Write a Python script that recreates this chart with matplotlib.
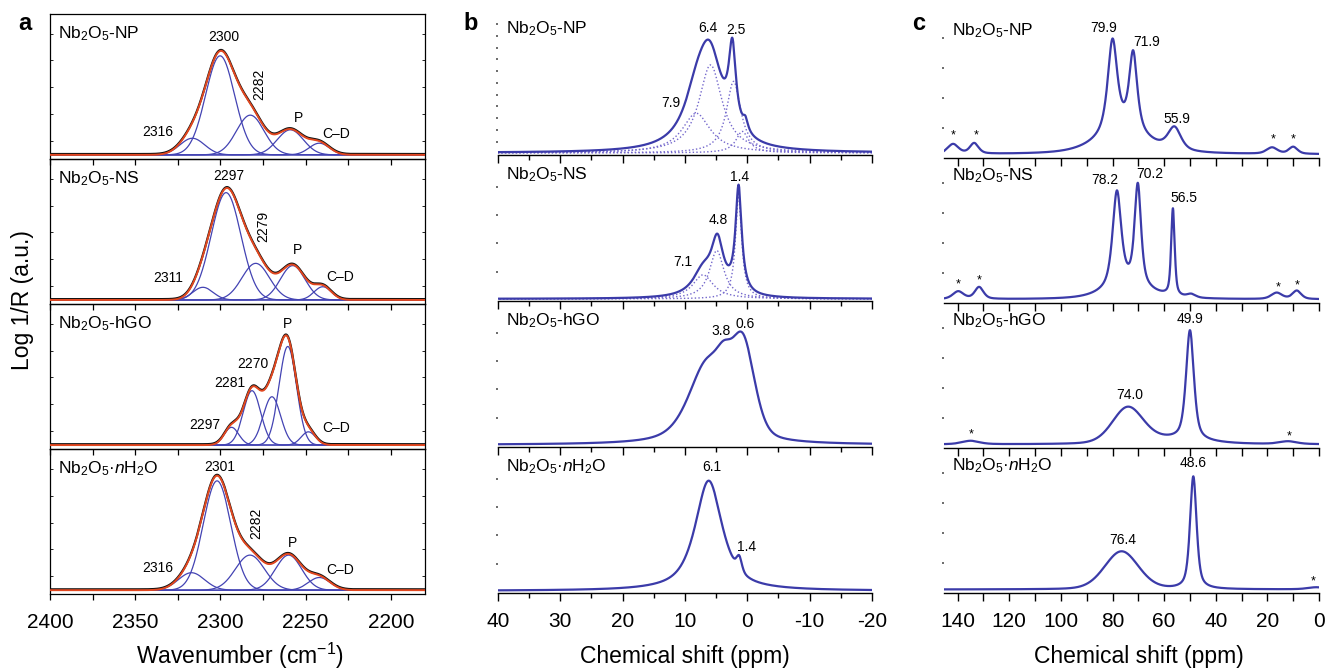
import numpy as np
import matplotlib
matplotlib.use('Agg')
import matplotlib.pyplot as plt
from matplotlib.ticker import MultipleLocator, FixedLocator, NullFormatter

plt.rcParams['font.family'] = ['Liberation Sans', 'DejaVu Sans']
plt.rcParams['mathtext.fontset'] = 'custom'
plt.rcParams['mathtext.rm'] = 'Liberation Sans'
plt.rcParams['mathtext.it'] = 'Liberation Sans:italic'
plt.rcParams['mathtext.bf'] = 'Liberation Sans:bold'
plt.rcParams['axes.unicode_minus'] = False

# ---------------------------------------------------------------- data
SAMPLES = ['Nb$_2$O$_5$-NP', 'Nb$_2$O$_5$-NS', 'Nb$_2$O$_5$-hGO', 'Nb$_2$O$_5$·$n$H$_2$O']

# (a) fitted Gaussian bands: centre (cm-1), height, FWHM (cm-1)
A_NP_CENTER = [2316.5, 2300.2, 2282.5, 2259.0, 2242.0]
A_NP_HEIGHT = [0.118, 0.703, 0.282, 0.178, 0.083]
A_NP_FWHM = [17, 20, 19, 18, 14]
A_NP_LABELS = ['2316', '2300', '2282', 'P', 'C–D']

A_NS_CENTER = [2310.3, 2296.7, 2279.3, 2257.6, 2240.0]
A_NS_HEIGHT = [0.090, 0.762, 0.260, 0.244, 0.094]
A_NS_FWHM = [14, 20.5, 19, 17, 12]
A_NS_LABELS = ['2311', '2297', '2279', 'P', 'C–D']

A_HGO_CENTER = [2293.5, 2281.5, 2269.8, 2260.5, 2248.4]
A_HGO_HEIGHT = [0.126, 0.386, 0.343, 0.700, 0.094]
A_HGO_FWHM = [10, 12, 12, 12, 10]
A_HGO_LABELS = ['2297', '2281', '2270', 'P', 'C–D']

A_H2O_CENTER = [2317.0, 2302.0, 2282.7, 2260.0, 2242.0]
A_H2O_HEIGHT = [0.124, 0.776, 0.249, 0.249, 0.090]
A_H2O_FWHM = [18, 19, 20, 18, 15]
A_H2O_LABELS = ['2316', '2301', '2282', 'P', 'C–D']

# (b) 1H NMR: measured line components (ppm, height, FWHM, Lorentz fraction)
B_NP_CENTER = [8.1, 6.0, 2.4, 0.3]
B_NP_HEIGHT = [0.277, 0.600, 0.560, 0.080]
B_NP_FWHM = [5.0, 5.0, 1.4, 1.0]
B_NP_ETA = [1.0, 1.0, 1.0, 1.0]
B_NP_FIT_CENTER = [8.2, 5.9, 2.2, 0.8]
B_NP_FIT_HEIGHT = [0.277, 0.615, 0.500, 0.150]
B_NP_FIT_FWHM = [5.5, 4.5, 2.8, 2.5]
B_NP_LABELS = ['7.9', '6.4', '2.5']

B_NS_CENTER = [7.1, 4.8, 1.4]
B_NS_HEIGHT = [0.170, 0.360, 0.740]
B_NS_FWHM = [4.0, 2.4, 1.2]
B_NS_ETA = [1.0, 1.0, 1.0]
B_NS_FIT_CENTER = [7.1, 4.9, 1.4]
B_NS_FIT_HEIGHT = [0.168, 0.338, 0.720]
B_NS_FIT_FWHM = [4.0, 2.8, 1.2]
B_NS_LABELS = ['7.1', '4.8', '1.4']

B_HGO_CENTER = [6.5, 3.8, 0.7]
B_HGO_HEIGHT = [0.55, 0.20, 0.64]
B_HGO_FWHM = [7.0, 3.0, 4.4]
B_HGO_ETA = [0.6, 0.3, 0.3]
B_HGO_LABELS = ['3.8', '0.6']

B_H2O_CENTER = [6.2, 1.3]
B_H2O_HEIGHT = [0.77, 0.10]
B_H2O_FWHM = [5.2, 1.0]
B_H2O_ETA = [0.8, 0.5]
B_H2O_LABELS = ['6.1', '1.4']

# (c) NMR: peak list (ppm, height, FWHM, Lorentz fraction); '*' = spinning sidebands
C_NP_CENTER = [80.0, 72.0, 76.0, 56.0, 141.8, 133.6, 18.2, 10.0]
C_NP_HEIGHT = [0.67, 0.57, 0.14, 0.16, 0.070, 0.075, 0.045, 0.050]
C_NP_FWHM = [4.5, 3.8, 24, 6.0, 5.0, 4.0, 5.0, 4.0]
C_NP_ETA = [0.8, 0.8, 0.5, 0.6, 0.5, 0.5, 0.5, 0.5]
C_NP_LABELS = ['79.9', '71.9', '55.9']
C_NP_STARS = [141.7, 133.0, 17.9, 10.0]

C_NS_CENTER = [78.3, 70.2, 74.0, 56.6, 49.5, 139.8, 131.7, 16.4, 8.6]
C_NS_HEIGHT = [0.68, 0.72, 0.09, 0.62, 0.025, 0.055, 0.085, 0.045, 0.060]
C_NS_FWHM = [4.0, 3.0, 20, 1.6, 4.0, 5.0, 4.0, 5.0, 4.0]
C_NS_ETA = [0.7, 0.7, 0.5, 0.6, 0.5, 0.5, 0.5, 0.5, 0.5]
C_NS_LABELS = ['78.2', '70.2', '56.5']
C_NS_STARS = [139.8, 131.7, 16.0, 8.3]

C_HGO_CENTER = [50.0, 74.1, 58.0, 135.0, 12.0]
C_HGO_HEIGHT = [0.78, 0.25, 0.035, 0.025, 0.020]
C_HGO_FWHM = [3.6, 14.0, 30.0, 8.0, 8.0]
C_HGO_ETA = [0.6, 0.2, 0.5, 0.5, 0.5]
C_HGO_LABELS = ['49.9', '74.0']
C_HGO_STARS = [134.9, 11.6]

C_H2O_CENTER = [48.7, 76.5, 1.0]
C_H2O_HEIGHT = [0.80, 0.27, 0.015]
C_H2O_FWHM = [3.0, 15.5, 8.0]
C_H2O_ETA = [0.6, 0.2, 0.5]
C_H2O_LABELS = ['48.6', '76.4']
C_H2O_STARS = [2.2]

# ---------------------------------------------------------------- helpers
LN2 = np.log(2)


def gauss(x, c, h, w):
    return h * np.exp(-4 * LN2 * ((x - c) / w) ** 2)


def pvoigt(x, c, h, w, eta):
    return h * (eta / (1 + (2 * (x - c) / w) ** 2)
                + (1 - eta) * np.exp(-4 * LN2 * ((x - c) / w) ** 2))


W, H = 1325, 669
fig = plt.figure(figsize=(W / 100, H / 100), dpi=100)


def px_axes(left, top, width, height):
    ax = fig.add_axes([left / W, 1 - (top + height) / H, width / W, height / H])
    ax.patch.set_visible(False)
    return ax


BLUE = '#3b3ba9'
COMP = '#4343b3'
RED = '#e2471f'
DOT = '#7468cc'
TXT = 10
NAME = 12.5
TICK = 15

# ---------------------------------------------------------------- panel a
a_sets = [
    (A_NP_CENTER, A_NP_HEIGHT, A_NP_FWHM, A_NP_LABELS),
    (A_NS_CENTER, A_NS_HEIGHT, A_NS_FWHM, A_NS_LABELS),
    (A_HGO_CENTER, A_HGO_HEIGHT, A_HGO_FWHM, A_HGO_LABELS),
    (A_H2O_CENTER, A_H2O_HEIGHT, A_H2O_FWHM, A_H2O_LABELS),
]
# label positions (cm-1, height) and rotation per panel
a_lpos = [
    [(2337, 0.16), (2298.3, 0.84), (2277, 0.50), (2254, 0.26), (2232.4, 0.147)],
    [(2330.8, 0.154), (2295.3, 0.88), (2274.6, 0.52), (2254.7, 0.355), (2229.5, 0.166)],
    [(2309.3, 0.14), (2294.4, 0.438), (2280.8, 0.575), (2260.9, 0.857), (2232, 0.12)],
    [(2336.6, 0.156), (2300.6, 0.876), (2279, 0.474), (2257.6, 0.334), (2229.5, 0.142)],
]
a_rot = [[0, 0, 90, 0, 0], [0, 0, 90, 0, 0], [0, 0, 0, 0, 0], [0, 0, 90, 0, 0]]

xa = np.linspace(2180, 2400, 1500)
a_top, a_h = 14, 145.1
for i, (cen, hei, fw, labs) in enumerate(a_sets):
    ax = px_axes(50, a_top + i * a_h, 375, a_h)
    total = np.zeros_like(xa)
    for c, h, w in zip(cen, hei, fw):
        comp = gauss(xa, c, h, w)
        total += comp
        ax.plot(xa, comp, color=COMP, lw=0.9, zorder=2)
    ax.plot(xa, total + 0.006, color='#111111', lw=1.6, zorder=3)
    ax.plot(xa, total, color=RED, lw=1.4, zorder=4)
    for lab, (lx, ly), r in zip(labs, a_lpos[i], a_rot[i]):
        ax.text(lx, ly, lab, fontsize=TXT, ha='center', va='center', rotation=r)
    ax.text(0.021, 0.868, SAMPLES[i], transform=ax.transAxes, fontsize=NAME,
            ha='left', va='center')
    ax.set_xlim(2400, 2180)
    ax.set_ylim(-0.03, 1.0)
    for s in ax.spines.values():
        s.set_linewidth(0.9)
    ax.xaxis.set_major_locator(MultipleLocator(50))
    ax.xaxis.set_minor_locator(MultipleLocator(25))
    ax.tick_params(axis='x', which='both', direction='out', length=4, width=0.9,
                   labelsize=TICK, pad=9.5)
    ax.yaxis.set_major_locator(FixedLocator(np.arange(0.1, 1.0, 0.19)))
    ax.tick_params(axis='y', which='both', direction='in', length=2, width=0.6,
                   left=True, right=True, labelleft=False)
    if i < 3:
        ax.tick_params(axis='x', labelbottom=False)

# ---------------------------------------------------------------- panel b
xb = np.linspace(-20, 40, 3000)
b_sets = [
    (B_NP_CENTER, B_NP_HEIGHT, B_NP_FWHM, B_NP_ETA, B_NP_LABELS,
     (B_NP_FIT_CENTER, B_NP_FIT_HEIGHT, B_NP_FIT_FWHM)),
    (B_NS_CENTER, B_NS_HEIGHT, B_NS_FWHM, B_NS_ETA, B_NS_LABELS,
     (B_NS_FIT_CENTER, B_NS_FIT_HEIGHT, B_NS_FIT_FWHM)),
    (B_HGO_CENTER, B_HGO_HEIGHT, B_HGO_FWHM, B_HGO_ETA, B_HGO_LABELS, None),
    (B_H2O_CENTER, B_H2O_HEIGHT, B_H2O_FWHM, B_H2O_ETA, B_H2O_LABELS, None),
]
b_lpos = [
    [(12.25, 0.352), (6.26, 0.872), (1.82, 0.86)],
    [(10.37, 0.261), (4.66, 0.552), (1.18, 0.851)],
    [(4.27, 0.797), (0.37, 0.844)],
    [(5.72, 0.863), (0.1, 0.31)],
]
b_yt = [np.arange(0.079, 0.97, 0.082), np.arange(0.19, 0.9, 0.198),
        np.arange(0.19, 0.9, 0.198), np.arange(0.19, 0.9, 0.198)]

b_top, b_h = 9, 146
for i, (cen, hei, fw, eta, labs, fit) in enumerate(b_sets):
    ax = px_axes(498, b_top + i * b_h, 374, b_h)
    total = np.zeros_like(xb)
    for c, h, w, e in zip(cen, hei, fw, eta):
        total += pvoigt(xb, c, h, w, e)
    if fit is not None:
        for c, h, w in zip(*fit):
            ax.plot(xb, pvoigt(xb, c, h, w, 1.0), color=DOT, lw=1.0,
                    ls=(0, (1, 1.6)), zorder=2)
    ax.plot(xb, total, color=BLUE, lw=1.6, zorder=3)
    for lab, (lx, ly) in zip(labs, b_lpos[i]):
        ax.text(lx, ly, lab, fontsize=TXT, ha='center', va='center')
    ax.text(0.0205, 0.865, SAMPLES[i], transform=ax.transAxes, fontsize=NAME,
            ha='left', va='center')
    ax.set_xlim(40, -20)
    ax.set_ylim(-0.015, 1.006)
    for k in ['left', 'top', 'right']:
        ax.spines[k].set_visible(False)
    ax.spines['bottom'].set_linewidth(1.0)
    ax.xaxis.set_major_locator(MultipleLocator(10))
    ax.xaxis.set_minor_locator(MultipleLocator(5))
    ax.tick_params(axis='x', which='major', direction='out', length=5.5, width=1.0,
                   labelsize=TICK, pad=8)
    ax.tick_params(axis='x', which='minor', direction='out', length=3.5, width=1.0)
    ax.yaxis.set_major_locator(FixedLocator(b_yt[i]))
    ax.tick_params(axis='y', direction='out', length=1.2, width=1.1, color='#444444',
                   labelleft=False)
    if i < 3:
        ax.tick_params(axis='x', labelbottom=False)

# ---------------------------------------------------------------- panel c
xc = np.linspace(-1, 146, 4000)
c_sets = [
    (C_NP_CENTER, C_NP_HEIGHT, C_NP_FWHM, C_NP_ETA, C_NP_LABELS, C_NP_STARS),
    (C_NS_CENTER, C_NS_HEIGHT, C_NS_FWHM, C_NS_ETA, C_NS_LABELS, C_NS_STARS),
    (C_HGO_CENTER, C_HGO_HEIGHT, C_HGO_FWHM, C_HGO_ETA, C_HGO_LABELS, C_HGO_STARS),
    (C_H2O_CENTER, C_H2O_HEIGHT, C_H2O_FWHM, C_H2O_ETA, C_H2O_LABELS, C_H2O_STARS),
]
c_lpos = [
    [(83.3, 0.90), (66.8, 0.798), (54.9, 0.254)],
    [(82.9, 0.852), (65.7, 0.888), (52.3, 0.72)],
    [(50.0, 0.893), (73.5, 0.355)],
    [(48.7, 0.895), (76.1, 0.348)],
]
c_star_y = [
    [0.135, 0.135, 0.11, 0.11],
    [0.106, 0.135, 0.087, 0.10],
    [0.071, 0.06],
    [0.055],
]

c_top, c_h = 13, 145
for i, (cen, hei, fw, eta, labs, stars) in enumerate(c_sets):
    ax = px_axes(944, c_top + i * c_h, 375, c_h)
    total = np.zeros_like(xc)
    for c, h, w, e in zip(cen, hei, fw, eta):
        total += pvoigt(xc, c, h, w, e)
    ax.plot(xc, total, color=BLUE, lw=1.6, zorder=3)
    for lab, (lx, ly) in zip(labs, c_lpos[i]):
        ax.text(lx, ly, lab, fontsize=TXT, ha='center', va='center')
    for sx, sy in zip(stars, c_star_y[i]):
        ax.text(sx, sy, '*', fontsize=9, ha='center', va='center')
    ax.text(0.0205, 0.875, SAMPLES[i], transform=ax.transAxes, fontsize=NAME,
            ha='left', va='center')
    ax.set_xlim(145.3, 0)
    ax.set_ylim(-0.025, 1.005)
    for k in ['left', 'top', 'right']:
        ax.spines[k].set_visible(False)
    ax.spines['bottom'].set_linewidth(1.0)
    ax.xaxis.set_major_locator(MultipleLocator(20))
    ax.xaxis.set_minor_locator(MultipleLocator(10))
    ax.tick_params(axis='x', which='major', direction='out', length=5.5, width=1.0,
                   labelsize=TICK, pad=8.5)
    ax.tick_params(axis='x', which='minor', direction='out', length=5.5, width=1.0)
    ax.yaxis.set_major_locator(FixedLocator(np.arange(0.187, 0.9, 0.213)))
    ax.tick_params(axis='y', direction='out', length=1.2, width=1.1, color='#444444',
                   labelleft=False)
    if i < 3:
        ax.tick_params(axis='x', labelbottom=False)

# ---------------------------------------------------------------- labels
fig.text(22 / W, 1 - 300 / H, 'Log 1/R (a.u.)', rotation=90, fontsize=16.5,
         ha='center', va='center')
fig.text(240 / W, 1 - 656 / H, 'Wavenumber (cm$^{-1}$)', fontsize=16.5,
         ha='center', va='center')
fig.text(685 / W, 1 - 656 / H, 'Chemical shift (ppm)', fontsize=16.5,
         ha='center', va='center')
fig.text(1139 / W, 1 - 656 / H, 'Chemical shift (ppm)', fontsize=16.5,
         ha='center', va='center')
for lx, lab in [(25, 'a'), (471, 'b'), (919, 'c')]:
    fig.text(lx / W, 1 - 24 / H, lab, fontsize=17, fontweight='bold',
             ha='center', va='center')

fig.savefig('out.png', dpi=100)
